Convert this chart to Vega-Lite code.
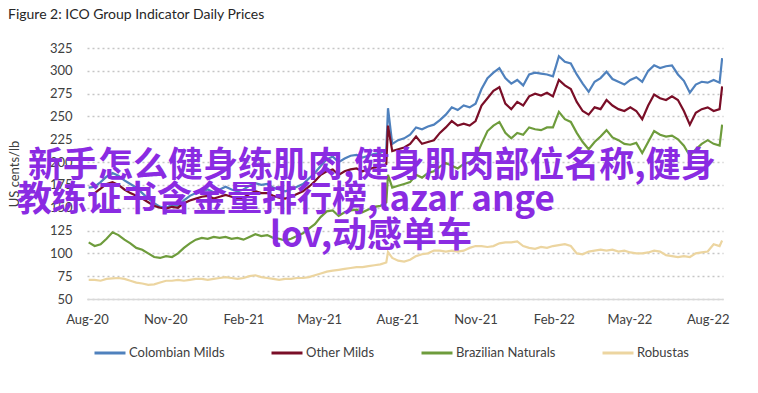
{
  "$schema": "https://vega.github.io/schema/vega-lite/v6.json",
  "width": 636,
  "height": 251,
  "autosize": {"type": "none"},
  "padding": {"left": 87, "top": 48, "right": 35, "bottom": 94},
  "background": "white",
  "title": {"text": "Figure 2: ICO Group Indicator Daily Prices", "anchor": "start", "frame": "group", "dx": -79, "offset": 20, "fontSize": 14, "fontWeight": "normal", "color": "#262626", "font": "Lato"},
  "datasets": {
    "prices": [
      {"date": "2020-08-03", "Colombian Milds": 172, "Other Milds": 163, "Brazilian Naturals": 112, "Robustas": 71},
      {"date": "2020-08-10", "Colombian Milds": 173, "Other Milds": 166, "Brazilian Naturals": 108, "Robustas": 71},
      {"date": "2020-08-17", "Colombian Milds": 178, "Other Milds": 171, "Brazilian Naturals": 110, "Robustas": 70},
      {"date": "2020-08-24", "Colombian Milds": 184, "Other Milds": 176, "Brazilian Naturals": 116, "Robustas": 72},
      {"date": "2020-08-31", "Colombian Milds": 188, "Other Milds": 178, "Brazilian Naturals": 123, "Robustas": 72.5},
      {"date": "2020-09-07", "Colombian Milds": 185, "Other Milds": 175, "Brazilian Naturals": 120, "Robustas": 73},
      {"date": "2020-09-14", "Colombian Milds": 180, "Other Milds": 170, "Brazilian Naturals": 115, "Robustas": 72},
      {"date": "2020-09-21", "Colombian Milds": 176, "Other Milds": 166, "Brazilian Naturals": 111, "Robustas": 70},
      {"date": "2020-09-28", "Colombian Milds": 172, "Other Milds": 163, "Brazilian Naturals": 106, "Robustas": 68},
      {"date": "2020-10-05", "Colombian Milds": 166, "Other Milds": 160, "Brazilian Naturals": 104, "Robustas": 67},
      {"date": "2020-10-12", "Colombian Milds": 160, "Other Milds": 156, "Brazilian Naturals": 100, "Robustas": 65.5},
      {"date": "2020-10-19", "Colombian Milds": 155, "Other Milds": 152, "Brazilian Naturals": 96, "Robustas": 66},
      {"date": "2020-10-26", "Colombian Milds": 151, "Other Milds": 150, "Brazilian Naturals": 95, "Robustas": 68},
      {"date": "2020-11-02", "Colombian Milds": 150, "Other Milds": 149, "Brazilian Naturals": 97, "Robustas": 70},
      {"date": "2020-11-09", "Colombian Milds": 153, "Other Milds": 151, "Brazilian Naturals": 96, "Robustas": 70},
      {"date": "2020-11-16", "Colombian Milds": 152, "Other Milds": 150, "Brazilian Naturals": 100, "Robustas": 71},
      {"date": "2020-11-23", "Colombian Milds": 158, "Other Milds": 155, "Brazilian Naturals": 106, "Robustas": 70},
      {"date": "2020-11-30", "Colombian Milds": 163, "Other Milds": 158, "Brazilian Naturals": 111, "Robustas": 71},
      {"date": "2020-12-07", "Colombian Milds": 166, "Other Milds": 160, "Brazilian Naturals": 115, "Robustas": 72},
      {"date": "2020-12-14", "Colombian Milds": 168, "Other Milds": 162, "Brazilian Naturals": 117, "Robustas": 72},
      {"date": "2020-12-21", "Colombian Milds": 170, "Other Milds": 163, "Brazilian Naturals": 116, "Robustas": 71},
      {"date": "2020-12-28", "Colombian Milds": 167, "Other Milds": 160, "Brazilian Naturals": 118, "Robustas": 72},
      {"date": "2021-01-04", "Colombian Milds": 170, "Other Milds": 162, "Brazilian Naturals": 117, "Robustas": 73},
      {"date": "2021-01-11", "Colombian Milds": 173, "Other Milds": 164, "Brazilian Naturals": 118, "Robustas": 74},
      {"date": "2021-01-18", "Colombian Milds": 170, "Other Milds": 162, "Brazilian Naturals": 116, "Robustas": 73},
      {"date": "2021-01-25", "Colombian Milds": 168, "Other Milds": 160, "Brazilian Naturals": 117, "Robustas": 72},
      {"date": "2021-02-01", "Colombian Milds": 170, "Other Milds": 161, "Brazilian Naturals": 115, "Robustas": 73},
      {"date": "2021-02-08", "Colombian Milds": 174, "Other Milds": 165, "Brazilian Naturals": 118, "Robustas": 75},
      {"date": "2021-02-15", "Colombian Milds": 177, "Other Milds": 168, "Brazilian Naturals": 121, "Robustas": 76},
      {"date": "2021-02-22", "Colombian Milds": 175, "Other Milds": 166, "Brazilian Naturals": 119, "Robustas": 74},
      {"date": "2021-03-01", "Colombian Milds": 176, "Other Milds": 166, "Brazilian Naturals": 120, "Robustas": 73},
      {"date": "2021-03-08", "Colombian Milds": 172, "Other Milds": 163, "Brazilian Naturals": 117, "Robustas": 72},
      {"date": "2021-03-15", "Colombian Milds": 170, "Other Milds": 161, "Brazilian Naturals": 116, "Robustas": 71},
      {"date": "2021-03-22", "Colombian Milds": 168, "Other Milds": 160, "Brazilian Naturals": 114, "Robustas": 72},
      {"date": "2021-03-29", "Colombian Milds": 170, "Other Milds": 162, "Brazilian Naturals": 116, "Robustas": 72},
      {"date": "2021-04-05", "Colombian Milds": 173, "Other Milds": 165, "Brazilian Naturals": 119, "Robustas": 73},
      {"date": "2021-04-12", "Colombian Milds": 176, "Other Milds": 168, "Brazilian Naturals": 122, "Robustas": 73},
      {"date": "2021-04-19", "Colombian Milds": 182, "Other Milds": 173, "Brazilian Naturals": 127, "Robustas": 74},
      {"date": "2021-04-26", "Colombian Milds": 188, "Other Milds": 179, "Brazilian Naturals": 132, "Robustas": 76},
      {"date": "2021-05-03", "Colombian Milds": 196, "Other Milds": 186, "Brazilian Naturals": 140, "Robustas": 78},
      {"date": "2021-05-10", "Colombian Milds": 203, "Other Milds": 190, "Brazilian Naturals": 146, "Robustas": 80},
      {"date": "2021-05-17", "Colombian Milds": 206, "Other Milds": 192, "Brazilian Naturals": 147, "Robustas": 81},
      {"date": "2021-05-24", "Colombian Milds": 200, "Other Milds": 186, "Brazilian Naturals": 141, "Robustas": 82},
      {"date": "2021-05-31", "Colombian Milds": 204, "Other Milds": 190, "Brazilian Naturals": 145, "Robustas": 83},
      {"date": "2021-06-07", "Colombian Milds": 207, "Other Milds": 192, "Brazilian Naturals": 147, "Robustas": 84},
      {"date": "2021-06-14", "Colombian Milds": 208, "Other Milds": 193, "Brazilian Naturals": 148, "Robustas": 85},
      {"date": "2021-06-21", "Colombian Milds": 205, "Other Milds": 190, "Brazilian Naturals": 145, "Robustas": 85},
      {"date": "2021-06-28", "Colombian Milds": 207, "Other Milds": 192, "Brazilian Naturals": 148, "Robustas": 86},
      {"date": "2021-07-05", "Colombian Milds": 209, "Other Milds": 194, "Brazilian Naturals": 151, "Robustas": 87},
      {"date": "2021-07-12", "Colombian Milds": 210, "Other Milds": 195, "Brazilian Naturals": 152, "Robustas": 88},
      {"date": "2021-07-19", "Colombian Milds": 214, "Other Milds": 198, "Brazilian Naturals": 156, "Robustas": 90},
      {"date": "2021-07-21", "Colombian Milds": 259, "Other Milds": 240, "Brazilian Naturals": 186, "Robustas": 101.5},
      {"date": "2021-07-26", "Colombian Milds": 220, "Other Milds": 212, "Brazilian Naturals": 172, "Robustas": 95},
      {"date": "2021-08-02", "Colombian Milds": 224, "Other Milds": 214, "Brazilian Naturals": 174, "Robustas": 92},
      {"date": "2021-08-09", "Colombian Milds": 226, "Other Milds": 216, "Brazilian Naturals": 176, "Robustas": 91},
      {"date": "2021-08-16", "Colombian Milds": 230, "Other Milds": 220, "Brazilian Naturals": 178, "Robustas": 93},
      {"date": "2021-08-23", "Colombian Milds": 238, "Other Milds": 228, "Brazilian Naturals": 186, "Robustas": 97},
      {"date": "2021-08-30", "Colombian Milds": 236, "Other Milds": 220, "Brazilian Naturals": 183, "Robustas": 99},
      {"date": "2021-09-06", "Colombian Milds": 239, "Other Milds": 222, "Brazilian Naturals": 188, "Robustas": 100},
      {"date": "2021-09-13", "Colombian Milds": 241, "Other Milds": 224, "Brazilian Naturals": 190, "Robustas": 103},
      {"date": "2021-09-20", "Colombian Milds": 246, "Other Milds": 232, "Brazilian Naturals": 195, "Robustas": 103},
      {"date": "2021-09-27", "Colombian Milds": 252, "Other Milds": 238, "Brazilian Naturals": 199, "Robustas": 102},
      {"date": "2021-10-04", "Colombian Milds": 260, "Other Milds": 245, "Brazilian Naturals": 196, "Robustas": 103},
      {"date": "2021-10-11", "Colombian Milds": 257, "Other Milds": 240, "Brazilian Naturals": 193, "Robustas": 102},
      {"date": "2021-10-18", "Colombian Milds": 262, "Other Milds": 242, "Brazilian Naturals": 198, "Robustas": 103},
      {"date": "2021-10-25", "Colombian Milds": 260, "Other Milds": 240, "Brazilian Naturals": 200, "Robustas": 106},
      {"date": "2021-11-01", "Colombian Milds": 264, "Other Milds": 245, "Brazilian Naturals": 205, "Robustas": 108},
      {"date": "2021-11-08", "Colombian Milds": 280, "Other Milds": 262, "Brazilian Naturals": 220, "Robustas": 108},
      {"date": "2021-11-15", "Colombian Milds": 292, "Other Milds": 270, "Brazilian Naturals": 234, "Robustas": 107},
      {"date": "2021-11-22", "Colombian Milds": 298, "Other Milds": 278, "Brazilian Naturals": 240, "Robustas": 108},
      {"date": "2021-11-29", "Colombian Milds": 303, "Other Milds": 282, "Brazilian Naturals": 244, "Robustas": 111},
      {"date": "2021-12-06", "Colombian Milds": 292, "Other Milds": 264, "Brazilian Naturals": 232, "Robustas": 112},
      {"date": "2021-12-13", "Colombian Milds": 286, "Other Milds": 258, "Brazilian Naturals": 226, "Robustas": 112},
      {"date": "2021-12-20", "Colombian Milds": 290, "Other Milds": 266, "Brazilian Naturals": 232, "Robustas": 113},
      {"date": "2021-12-27", "Colombian Milds": 284, "Other Milds": 262, "Brazilian Naturals": 230, "Robustas": 108},
      {"date": "2022-01-03", "Colombian Milds": 296, "Other Milds": 272, "Brazilian Naturals": 238, "Robustas": 106},
      {"date": "2022-01-10", "Colombian Milds": 298, "Other Milds": 275, "Brazilian Naturals": 236, "Robustas": 105},
      {"date": "2022-01-17", "Colombian Milds": 297, "Other Milds": 273, "Brazilian Naturals": 235, "Robustas": 107},
      {"date": "2022-01-24", "Colombian Milds": 296, "Other Milds": 276, "Brazilian Naturals": 238, "Robustas": 106},
      {"date": "2022-01-31", "Colombian Milds": 294, "Other Milds": 272, "Brazilian Naturals": 238, "Robustas": 108},
      {"date": "2022-02-07", "Colombian Milds": 316, "Other Milds": 290, "Brazilian Naturals": 255, "Robustas": 109},
      {"date": "2022-02-14", "Colombian Milds": 310, "Other Milds": 284, "Brazilian Naturals": 247, "Robustas": 110},
      {"date": "2022-02-21", "Colombian Milds": 308, "Other Milds": 280, "Brazilian Naturals": 244, "Robustas": 108},
      {"date": "2022-02-28", "Colombian Milds": 296, "Other Milds": 266, "Brazilian Naturals": 232, "Robustas": 100},
      {"date": "2022-03-07", "Colombian Milds": 286, "Other Milds": 256, "Brazilian Naturals": 222, "Robustas": 99},
      {"date": "2022-03-14", "Colombian Milds": 277, "Other Milds": 252, "Brazilian Naturals": 214, "Robustas": 102},
      {"date": "2022-03-21", "Colombian Milds": 288, "Other Milds": 260, "Brazilian Naturals": 222, "Robustas": 103},
      {"date": "2022-03-28", "Colombian Milds": 292, "Other Milds": 258, "Brazilian Naturals": 228, "Robustas": 104},
      {"date": "2022-04-04", "Colombian Milds": 299, "Other Milds": 268, "Brazilian Naturals": 235, "Robustas": 103},
      {"date": "2022-04-11", "Colombian Milds": 291, "Other Milds": 262, "Brazilian Naturals": 227, "Robustas": 104},
      {"date": "2022-04-18", "Colombian Milds": 288, "Other Milds": 258, "Brazilian Naturals": 224, "Robustas": 102},
      {"date": "2022-04-25", "Colombian Milds": 285, "Other Milds": 256, "Brazilian Naturals": 220, "Robustas": 103},
      {"date": "2022-05-02", "Colombian Milds": 290, "Other Milds": 260, "Brazilian Naturals": 219, "Robustas": 101},
      {"date": "2022-05-09", "Colombian Milds": 293, "Other Milds": 256, "Brazilian Naturals": 221, "Robustas": 100},
      {"date": "2022-05-16", "Colombian Milds": 288, "Other Milds": 247, "Brazilian Naturals": 210, "Robustas": 100},
      {"date": "2022-05-23", "Colombian Milds": 300, "Other Milds": 262, "Brazilian Naturals": 222, "Robustas": 101},
      {"date": "2022-05-30", "Colombian Milds": 306, "Other Milds": 274, "Brazilian Naturals": 234, "Robustas": 103},
      {"date": "2022-06-06", "Colombian Milds": 303, "Other Milds": 270, "Brazilian Naturals": 230, "Robustas": 102},
      {"date": "2022-06-13", "Colombian Milds": 305, "Other Milds": 268, "Brazilian Naturals": 228, "Robustas": 98},
      {"date": "2022-06-20", "Colombian Milds": 306, "Other Milds": 272, "Brazilian Naturals": 229, "Robustas": 97},
      {"date": "2022-06-27", "Colombian Milds": 296, "Other Milds": 268, "Brazilian Naturals": 225, "Robustas": 96},
      {"date": "2022-07-04", "Colombian Milds": 289, "Other Milds": 256, "Brazilian Naturals": 218, "Robustas": 97},
      {"date": "2022-07-11", "Colombian Milds": 276, "Other Milds": 241, "Brazilian Naturals": 207, "Robustas": 96},
      {"date": "2022-07-18", "Colombian Milds": 285, "Other Milds": 254, "Brazilian Naturals": 214, "Robustas": 100},
      {"date": "2022-07-25", "Colombian Milds": 288, "Other Milds": 258, "Brazilian Naturals": 220, "Robustas": 101},
      {"date": "2022-08-01", "Colombian Milds": 287, "Other Milds": 260, "Brazilian Naturals": 224, "Robustas": 102},
      {"date": "2022-08-08", "Colombian Milds": 290, "Other Milds": 256, "Brazilian Naturals": 220, "Robustas": 110},
      {"date": "2022-08-15", "Colombian Milds": 287, "Other Milds": 258, "Brazilian Naturals": 218, "Robustas": 108},
      {"date": "2022-08-18", "Colombian Milds": 314, "Other Milds": 283, "Brazilian Naturals": 241, "Robustas": 114}
    ],
    "watermark": [
      {"t": "新手怎么健身练肌肉,健身肌肉部位名称,健身", "date": "2021-07-02", "price": 196},
      {"t": "教练证书含金量排行榜,lazar ange", "date": "2021-03-23", "price": 158.5},
      {"t": "lov,动感单车", "date": "2021-07-01", "price": 119}
    ]
  },
  "encoding": {
    "x": {
      "field": "date", "type": "temporal",
      "scale": {"type": "utc", "domain": [{"year": 2020, "month": 8, "date": 1, "utc": true}, {"year": 2022, "month": 8, "date": 19, "utc": true}]},
      "axis": {
        "title": null,
        "labelExpr": "utcFormat(datum.value, '%b-%y')",
        "values": [
          {"year": 2020, "month": 8, "date": 1, "utc": true},
          {"year": 2020, "month": 11, "date": 1, "utc": true},
          {"year": 2021, "month": 2, "date": 1, "utc": true},
          {"year": 2021, "month": 5, "date": 1, "utc": true},
          {"year": 2021, "month": 8, "date": 1, "utc": true},
          {"year": 2021, "month": 11, "date": 1, "utc": true},
          {"year": 2022, "month": 2, "date": 1, "utc": true},
          {"year": 2022, "month": 5, "date": 1, "utc": true},
          {"year": 2022, "month": 8, "date": 1, "utc": true}
        ],
        "ticks": false, "grid": false, "domain": true, "domainColor": "#d9d9d9", "domainWidth": 1.5,
        "labelPadding": 14, "labelFontSize": 13, "labelColor": "#404040", "labelFlush": false, "labelBound": false, "labelOverlap": false
      }
    },
    "y": {
      "field": "price", "type": "quantitative",
      "scale": {"domain": [50, 325], "nice": false, "zero": false},
      "axis": {
        "title": "US cents/lb", "titleFontSize": 13, "titleFontWeight": "normal", "titleColor": "#404040", "titlePadding": 28,
        "values": [50, 75, 100, 125, 150, 175, 200, 225, 250, 275, 300, 325],
        "labelFontSize": 13, "labelColor": "#404040", "labelPadding": 15, "labelOverlap": false,
        "ticks": false, "domain": false, "grid": true, "gridDash": [2, 3], "gridColor": "#c6c6c6", "gridWidth": 1.5
      }
    }
  },
  "layer": [
    {
      "data": {"name": "prices"},
      "transform": [{"fold": ["Colombian Milds", "Other Milds", "Brazilian Naturals", "Robustas"], "as": ["series", "price"]}],
      "mark": {"type": "line", "strokeWidth": 2.2, "clip": true},
      "encoding": {
        "color": {
          "field": "series", "type": "nominal",
          "scale": {"domain": ["Colombian Milds", "Other Milds", "Brazilian Naturals", "Robustas"], "range": ["#4f81bd", "#7a0e27", "#6e9c3c", "#ecd5a0"]},
          "legend": {
            "title": null, "orient": "none", "legendX": 6, "legendY": 288, "direction": "horizontal",
            "symbolType": "stroke", "symbolSize": 961, "symbolStrokeWidth": 3,
            "labelFontSize": 13, "labelColor": "#404040", "labelOffset": 2, "columnPadding": 40
          }
        }
      }
    },
    {
      "data": {"name": "watermark"},
      "mark": {"type": "text", "font": "Noto Sans CJK SC", "fontSize": 35, "fontWeight": "bold", "color": "#8a2be2", "align": "center", "baseline": "middle", "clip": false},
      "encoding": {
        "text": {"field": "t", "type": "nominal"}
      }
    }
  ],
  "config": {
    "view": {"stroke": null},
    "font": "Lato",
    "axis": {"labelFont": "Lato", "titleFont": "Lato"},
    "legend": {"labelFont": "Lato"}
  }
}
